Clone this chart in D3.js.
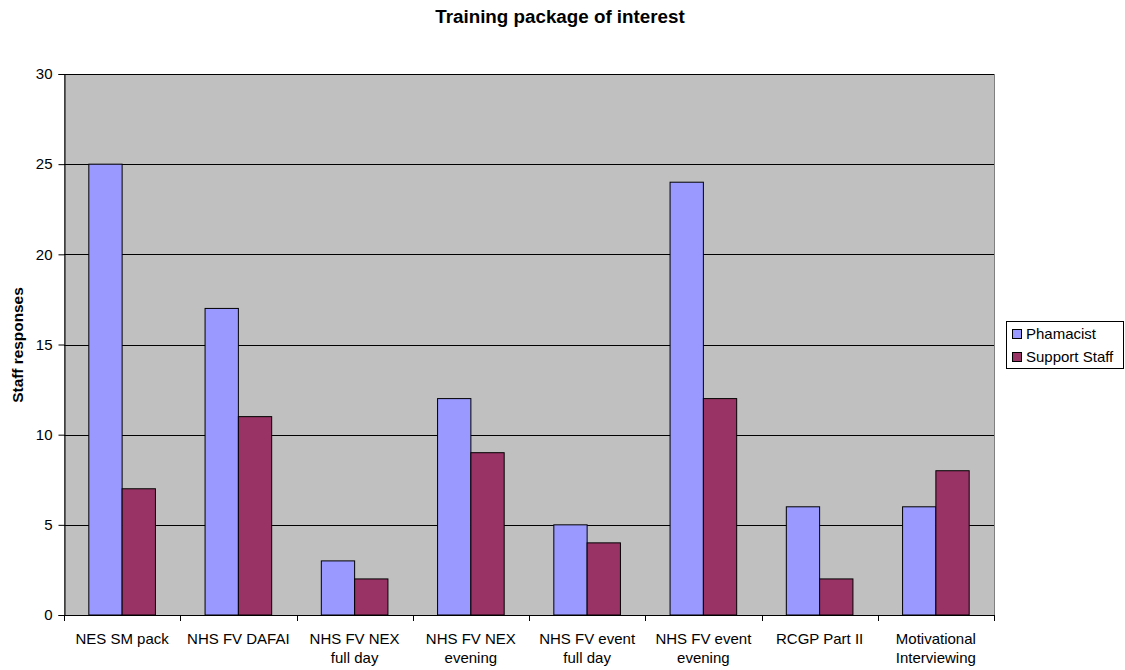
<!DOCTYPE html>
<html><head><meta charset="utf-8">
<script src="https://cdn.jsdelivr.net/npm/d3@7"></script>
<style>body{margin:0;background:#fff;} text{font-family:"Liberation Sans",Arial,sans-serif;}</style>
</head><body>
<svg id="c" width="1125" height="670"></svg>
<script>
const categories = [["NES SM pack"],["NHS FV DAFAI"],["NHS FV NEX","full day"],["NHS FV NEX","evening"],["NHS FV event","full day"],["NHS FV event","evening"],["RCGP Part II"],["Motivational","Interviewing"]];
const seriesNames = ["Phamacist","Support Staff"];
const phamacist = [25,17,3,12,5,24,6,6];
const supportStaff = [7,11,2,9,4,12,2,8];
const yTicks = [0,5,10,15,20,25,30];
const colors = ["#9999FF","#993366"];

const svg = d3.select("#c");
const L=64,R=994,T=74,B=615;
const keys = categories.map((c,i)=>i);
const x = d3.scaleBand().domain(keys).range([L,R]).paddingInner(0).paddingOuter(0);
const y = d3.scaleLinear().domain([0,30]).range([B,T]);
const bw = x.bandwidth();
const inner = d3.scaleBand().domain([0,1]).range([bw*0.2135, bw*0.7865]).padding(0);

svg.append("rect").attr("x",L+0.5).attr("y",T+0.5).attr("width",R-L).attr("height",B-T).attr("fill","#C0C0C0").attr("stroke","#808080");
svg.append("g").selectAll("line").data(yTicks.filter(d=>d>0)).join("line")
  .attr("x1",L).attr("x2",R).attr("y1",d=>Math.round(y(d))+0.5).attr("y2",d=>Math.round(y(d))+0.5).attr("stroke","#000");

const data = [phamacist, supportStaff];
data.forEach((vals,s)=>{
  svg.append("g").selectAll("rect").data(vals).join("rect")
    .attr("x",(d,i)=>x(i)+inner(s)).attr("width",inner.bandwidth())
    .attr("y",d=>y(d)).attr("height",d=>B-y(d))
    .attr("fill",colors[s]).attr("stroke","#000").attr("stroke-width",1);
});

// y axis
const ya = svg.append("g").attr("transform",`translate(${L+0.5},0)`).call(d3.axisLeft(y).tickValues(yTicks).tickSize(6).tickPadding(6).tickFormat(d3.format("d")));
ya.select(".domain").attr("stroke","#000");
ya.selectAll("text").attr("font-size",15).attr("fill","#000").style("font-family","Liberation Sans, Arial");
// x axis
svg.append("line").attr("x1",L).attr("x2",R).attr("y1",B+0.5).attr("y2",B+0.5).attr("stroke","#000");
const bounds = d3.range(categories.length+1).map(i=>L+i*x.step());
svg.append("g").selectAll("line").data(bounds).join("line")
  .attr("x1",d=>Math.round(d)+0.5).attr("x2",d=>Math.round(d)+0.5).attr("y1",B).attr("y2",B+6).attr("stroke","#000");
const xl = svg.append("g").selectAll("text").data(categories).join("text")
  .attr("x",(d,i)=>x(i)+x.bandwidth()/2).attr("y",644).attr("text-anchor","middle").attr("font-size",15);
xl.each(function(d){const t=d3.select(this);d.forEach((line,j)=>t.append("tspan").attr("x",t.attr("x")).attr("dy",j?19:0).text(line));});

// title
svg.append("text").attr("x",560).attr("y",23).attr("text-anchor","middle").attr("font-size",18.8).attr("font-weight","bold").text("Training package of interest");
// y label
svg.append("text").attr("transform","translate(23,345) rotate(-90)").attr("text-anchor","middle").attr("font-size",15.4).attr("font-weight","bold").text("Staff responses");

// legend
const lg = svg.append("g");
lg.append("rect").attr("x",1006.5).attr("y",321.5).attr("width",117).attr("height",47).attr("fill","#fff").attr("stroke","#000");
seriesNames.forEach((n,i)=>{
  lg.append("rect").attr("x",1012.5).attr("y",329.5+i*23).attr("width",9).attr("height",9).attr("fill",colors[i]).attr("stroke","#000");
  lg.append("text").attr("x",1026).attr("y",339+i*23).attr("font-size",15).text(n);
});
</script>
</body></html>
